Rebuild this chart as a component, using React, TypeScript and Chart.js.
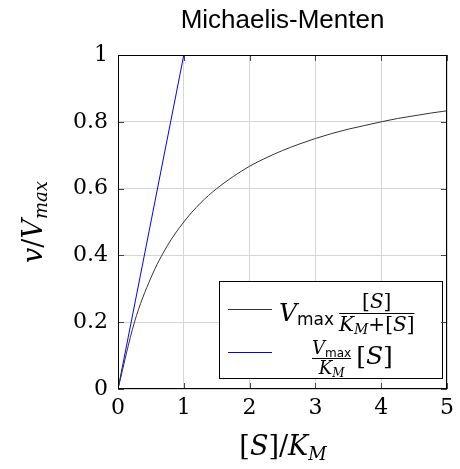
import { useEffect, useRef } from 'react';
import { Chart, registerables } from 'chart.js';

Chart.register(...registerables);

const titleText = 'Michaelis-Menten';
const substrate = [0, 0.25, 0.5, 0.75, 1, 1.25, 1.5, 1.75, 2, 2.25, 2.5, 2.75, 3, 3.25, 3.5, 3.75, 4, 4.25, 4.5, 4.75, 5];
const velocity = [0, 0.2, 0.333, 0.429, 0.5, 0.556, 0.6, 0.636, 0.667, 0.692, 0.714, 0.733, 0.75, 0.765, 0.778, 0.789, 0.8, 0.81, 0.818, 0.826, 0.833];
const linearX = [0, 1];
const linearY = [0, 1];
const xTicks = [0, 1, 2, 3, 4, 5];
const yTicks = [0, 0.2, 0.4, 0.6, 0.8, 1];
const yTickLabels = ['0', '0.2', '0.4', '0.6', '0.8', '1'];

const SERIF = '"DejaVu Serif", "Liberation Serif", serif';
const SANS = '"DejaVu Sans", "Liberation Sans", sans-serif';
const it = (px: number) => `italic ${px}px ${SERIF}`;
const rm = (px: number) => `${px}px ${SERIF}`;
const sf = (px: number) => `${px}px ${SANS}`;

type Run = { t: string; f: string; dy?: number };

function runsWidth(ctx: CanvasRenderingContext2D, runs: Run[]) {
  let w = 0;
  for (const r of runs) {
    ctx.font = r.f;
    w += ctx.measureText(r.t).width;
  }
  return w;
}

function drawRuns(ctx: CanvasRenderingContext2D, runs: Run[], x: number, y: number) {
  for (const r of runs) {
    ctx.font = r.f;
    ctx.fillText(r.t, x, y + (r.dy || 0));
    x += ctx.measureText(r.t).width;
  }
  return x;
}

function drawRunsCentered(ctx: CanvasRenderingContext2D, runs: Run[], cx: number, y: number) {
  const w = runsWidth(ctx, runs);
  drawRuns(ctx, runs, cx - w / 2, y);
}

const decorPlugin = {
  id: 'decor',
  afterDatasetsDraw(chart: any) {
    const ctx: CanvasRenderingContext2D = chart.ctx;
    const { left, right, top, bottom } = chart.chartArea;
    const xs = chart.scales.x;
    const ys = chart.scales.y;
    ctx.save();
    ctx.textBaseline = 'alphabetic';
    ctx.textAlign = 'left';

    // legend box
    const bx = 219, by = 281, bw = 223, bh = 97;
    ctx.fillStyle = '#fff';
    ctx.fillRect(bx, by, bw, bh);
    ctx.strokeStyle = '#000';
    ctx.lineWidth = 1;
    ctx.strokeRect(bx + 0.5, by + 0.5, bw, bh);

    // legend samples
    ctx.strokeStyle = '#333';
    ctx.beginPath();
    ctx.moveTo(228, 309.5);
    ctx.lineTo(272, 309.5);
    ctx.stroke();
    ctx.strokeStyle = '#0000ff';
    ctx.beginPath();
    ctx.moveTo(228, 352.5);
    ctx.lineTo(272, 352.5);
    ctx.stroke();

    ctx.fillStyle = '#000';
    // entry 1: V_max [S]/(K_M+[S])
    const x = drawRuns(ctx, [
      { t: 'V', f: it(25) },
      { t: 'max', f: sf(17), dy: 4 },
    ], 279, 321);
    const fx0 = x + 5;
    const denom1: Run[] = [
      { t: 'K', f: it(20) },
      { t: 'M', f: it(14), dy: 3 },
      { t: '+[', f: rm(20) },
      { t: 'S', f: it(20) },
      { t: ']', f: rm(20) },
    ];
    const num1: Run[] = [
      { t: '[', f: rm(20) },
      { t: 'S', f: it(20) },
      { t: ']', f: rm(20) },
    ];
    const dw1 = runsWidth(ctx, denom1);
    const fcx1 = fx0 + dw1 / 2;
    drawRunsCentered(ctx, num1, fcx1, 308);
    ctx.fillRect(fx0, 313, dw1, 1);
    drawRuns(ctx, denom1, fx0, 331);

    // entry 2: V_max/K_M [S]
    const num2: Run[] = [
      { t: 'V', f: it(18) },
      { t: 'max', f: sf(12), dy: 3 },
    ];
    const den2: Run[] = [
      { t: 'K', f: it(18) },
      { t: 'M', f: it(12), dy: 3 },
    ];
    const nw2 = runsWidth(ctx, num2);
    const fx2 = 312;
    const fcx2 = fx2 + nw2 / 2;
    drawRunsCentered(ctx, num2, fcx2, 354);
    ctx.fillRect(fx2, 358, nw2, 1);
    drawRunsCentered(ctx, den2, fcx2, 374);
    drawRuns(ctx, [
      { t: '[', f: rm(25) },
      { t: 'S', f: it(25) },
      { t: ']', f: rm(25) },
    ], fx2 + nw2 + 5, 364);

    // inner tick marks
    ctx.strokeStyle = '#444';
    ctx.lineWidth = 1;
    ctx.beginPath();
    for (const v of xTicks) {
      const px = Math.round(xs.getPixelForValue(v)) + 0.5;
      ctx.moveTo(px, bottom);
      ctx.lineTo(px, bottom - 6);
      ctx.moveTo(px, top);
      ctx.lineTo(px, top + 6);
    }
    for (const v of yTicks) {
      const py = Math.round(ys.getPixelForValue(v)) + 0.5;
      ctx.moveTo(left, py);
      ctx.lineTo(left + 6, py);
      ctx.moveTo(right, py);
      ctx.lineTo(right - 6, py);
    }
    ctx.stroke();

    // frame
    ctx.strokeStyle = '#000';
    ctx.lineWidth = 1;
    ctx.strokeRect(Math.round(left) + 0.5, Math.round(top) + 0.5, Math.round(right - left) - 1, Math.round(bottom - top) - 1);

    // title
    ctx.fillStyle = '#000';
    ctx.font = `26px "Liberation Sans", sans-serif`;
    ctx.textAlign = 'center';
    ctx.fillText(titleText, (left + right) / 2, 28);
    ctx.textAlign = 'left';

    // x axis title: [S]/K_M
    drawRunsCentered(ctx, [
      { t: '[', f: rm(27) },
      { t: 'S', f: it(27) },
      { t: ']/', f: rm(27) },
      { t: 'K', f: it(27) },
      { t: 'M', f: it(18), dy: 5 },
    ], 283, 455);

    // y axis title: v/V_max
    ctx.save();
    ctx.translate(42, 222);
    ctx.rotate(-Math.PI / 2);
    drawRunsCentered(ctx, [
      { t: 'v', f: it(27) },
      { t: '/', f: rm(27) },
      { t: 'V', f: it(27) },
      { t: 'max', f: it(18), dy: 5 },
    ], 0, 0);
    ctx.restore();

    ctx.restore();
  },
};

export default function App() {
  const ref = useRef<HTMLCanvasElement | null>(null);
  useEffect(() => {
    const canvas = ref.current!;
    const chart = new Chart(canvas, {
      type: 'line',
      data: {
        datasets: [
          {
            label: 'curve',
            data: substrate.map((s, i) => ({ x: s, y: velocity[i] })),
            borderColor: '#333',
            borderWidth: 1,
            pointRadius: 0,
            cubicInterpolationMode: 'monotone',
            fill: false,
          },
          {
            label: 'linear',
            data: linearX.map((s, i) => ({ x: s, y: linearY[i] })),
            borderColor: '#0000ff',
            borderWidth: 1,
            pointRadius: 0,
            fill: false,
          },
        ],
      },
      options: {
        animation: false,
        responsive: false,
        maintainAspectRatio: false,
        layout: { padding: { left: 0, right: 8, top: 55, bottom: 0 } },
        plugins: { legend: { display: false }, title: { display: false }, tooltip: { enabled: false } },
        scales: {
          x: {
            type: 'linear',
            min: 0,
            max: 5,
            afterBuildTicks: (s: any) => { s.ticks = xTicks.map((v) => ({ value: v })); },
            afterFit: (s: any) => { s.height = 80; },
            ticks: {
              color: '#000',
              font: { family: SERIF, size: 22 },
              padding: 6,
              maxRotation: 0,
              callback: (v: any) => String(v),
            },
            grid: { color: '#d6d6d6', lineWidth: 1, drawTicks: false },
            border: { display: false },
          },
          y: {
            type: 'linear',
            min: 0,
            max: 1,
            afterBuildTicks: (s: any) => { s.ticks = yTicks.map((v) => ({ value: v })); },
            afterFit: (s: any) => { s.width = 118; },
            ticks: {
              color: '#000',
              font: { family: SERIF, size: 22 },
              padding: 10,
              callback: (v: any) => {
                const i = yTicks.findIndex((t) => Math.abs(t - v) < 1e-9);
                return i >= 0 ? yTickLabels[i] : '';
              },
            },
            grid: { color: '#d6d6d6', lineWidth: 1, drawTicks: false },
            border: { display: false },
          },
        },
      } as any,
      plugins: [decorPlugin],
    });
    return () => chart.destroy();
  }, []);
  return (
    <div style={{ position: 'fixed', left: 0, top: 0, width: 460, height: 469, background: '#fff' }}>
      <canvas ref={ref} width={460} height={469} style={{ display: 'block' }} />
    </div>
  );
}
